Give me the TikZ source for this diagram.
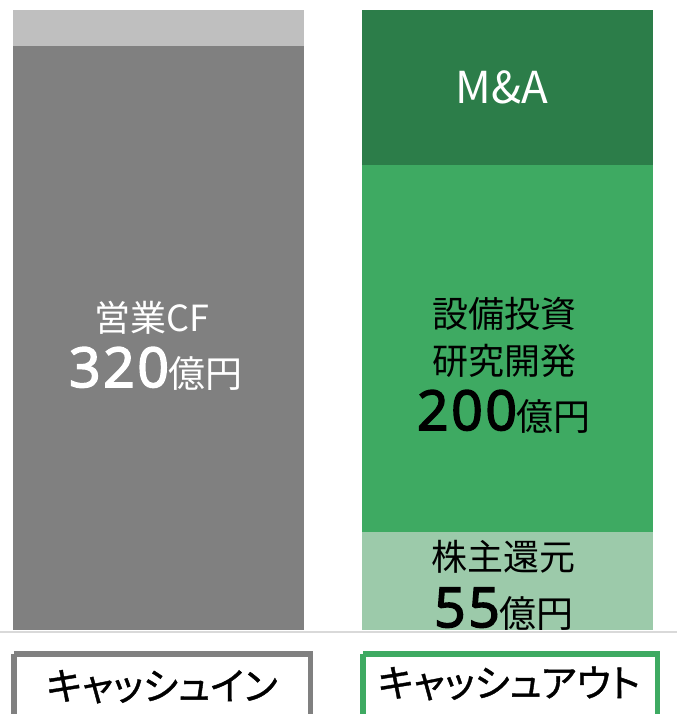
\documentclass[tikz,border=0pt]{standalone}
\usepackage{fontspec}
\setmainfont{Noto Sans CJK JP}
\newfontfamily\numfont[FakeBold=3, LetterSpace=5]{Open Sans}
\newfontfamily\kanafont[FakeBold=1, RawFeature=+palt]{Noto Sans CJK JP}
\definecolor{lgrey}{HTML}{BFBFBF}
\definecolor{dgrey}{HTML}{808080}
\definecolor{dgreen}{HTML}{2C7D49}
\definecolor{mgreen}{HTML}{3EAA62}
\definecolor{lgreen}{HTML}{9CCAAA}
\definecolor{rule}{HTML}{D9D9D9}
\tikzset{
  lbl/.style={inner sep=0pt, anchor=base},
  legendbox/.style={line width=5.5pt, fill=white},
}
\newcommand{\txtA}{\fontsize{36}{44}\selectfont}
\newcommand{\unitA}{\fontsize{37}{44}\selectfont}
\newcommand{\numA}{\numfont\fontsize{55}{60}\selectfont}
\begin{document}
\begin{tikzpicture}[x=1pt,y=-1pt]
\useasboundingbox (0,0) rectangle (677,714);
% bars
\fill[lgrey] (13,10) rectangle (304,46);
\fill[dgrey] (13,46) rectangle (304,630);
\fill[dgreen] (362,10) rectangle (653,165);
\fill[mgreen] (362,165) rectangle (653,532);
\fill[lgreen] (362,532) rectangle (653,630);
% baseline rule
\draw[rule, line width=1.5pt] (0,632) -- (677,632);
% left texts
\node[lbl, text=white] (cf) at (152,331) {\txtA 営業CF};
\node[lbl, text=white] (v320) at (156,387) {{\numA 320}{\unitA 億円}};
% right texts
\node[lbl, text=white] (ma) at (502,104) {\fontsize{44}{52}\selectfont M\&A};
\node[lbl] (capex) at (504,327) {\txtA 設備投資};
\node[lbl] (rd) at (504,374) {\txtA 研究開発};
\node[lbl] (v200) at (504,430) {{\numA 200}{\unitA 億円}};
\node[lbl] (sh) at (503,570) {\txtA 株主還元};
\node[lbl] (v55) at (504,627) {{\numA 55}{\unitA 億円}};
% legend boxes
\draw[legendbox, draw=dgrey] (13.75,653.75) -- (13.75,720) (13.75,653.75) -- (310.25,653.75) -- (310.25,720);
\draw[legendbox, draw=mgreen] (362.75,653.75) -- (362.75,720) (362.75,653.75) -- (657.25,653.75) -- (657.25,720);
\node[lbl] (cin) at (162,700) {\kanafont\fontsize{38}{46}\selectfont キャッシュイン};
\node[lbl] (cout) at (509,697) {\kanafont\fontsize{38}{46}\selectfont キャッシュアウト};
\end{tikzpicture}
\end{document}
